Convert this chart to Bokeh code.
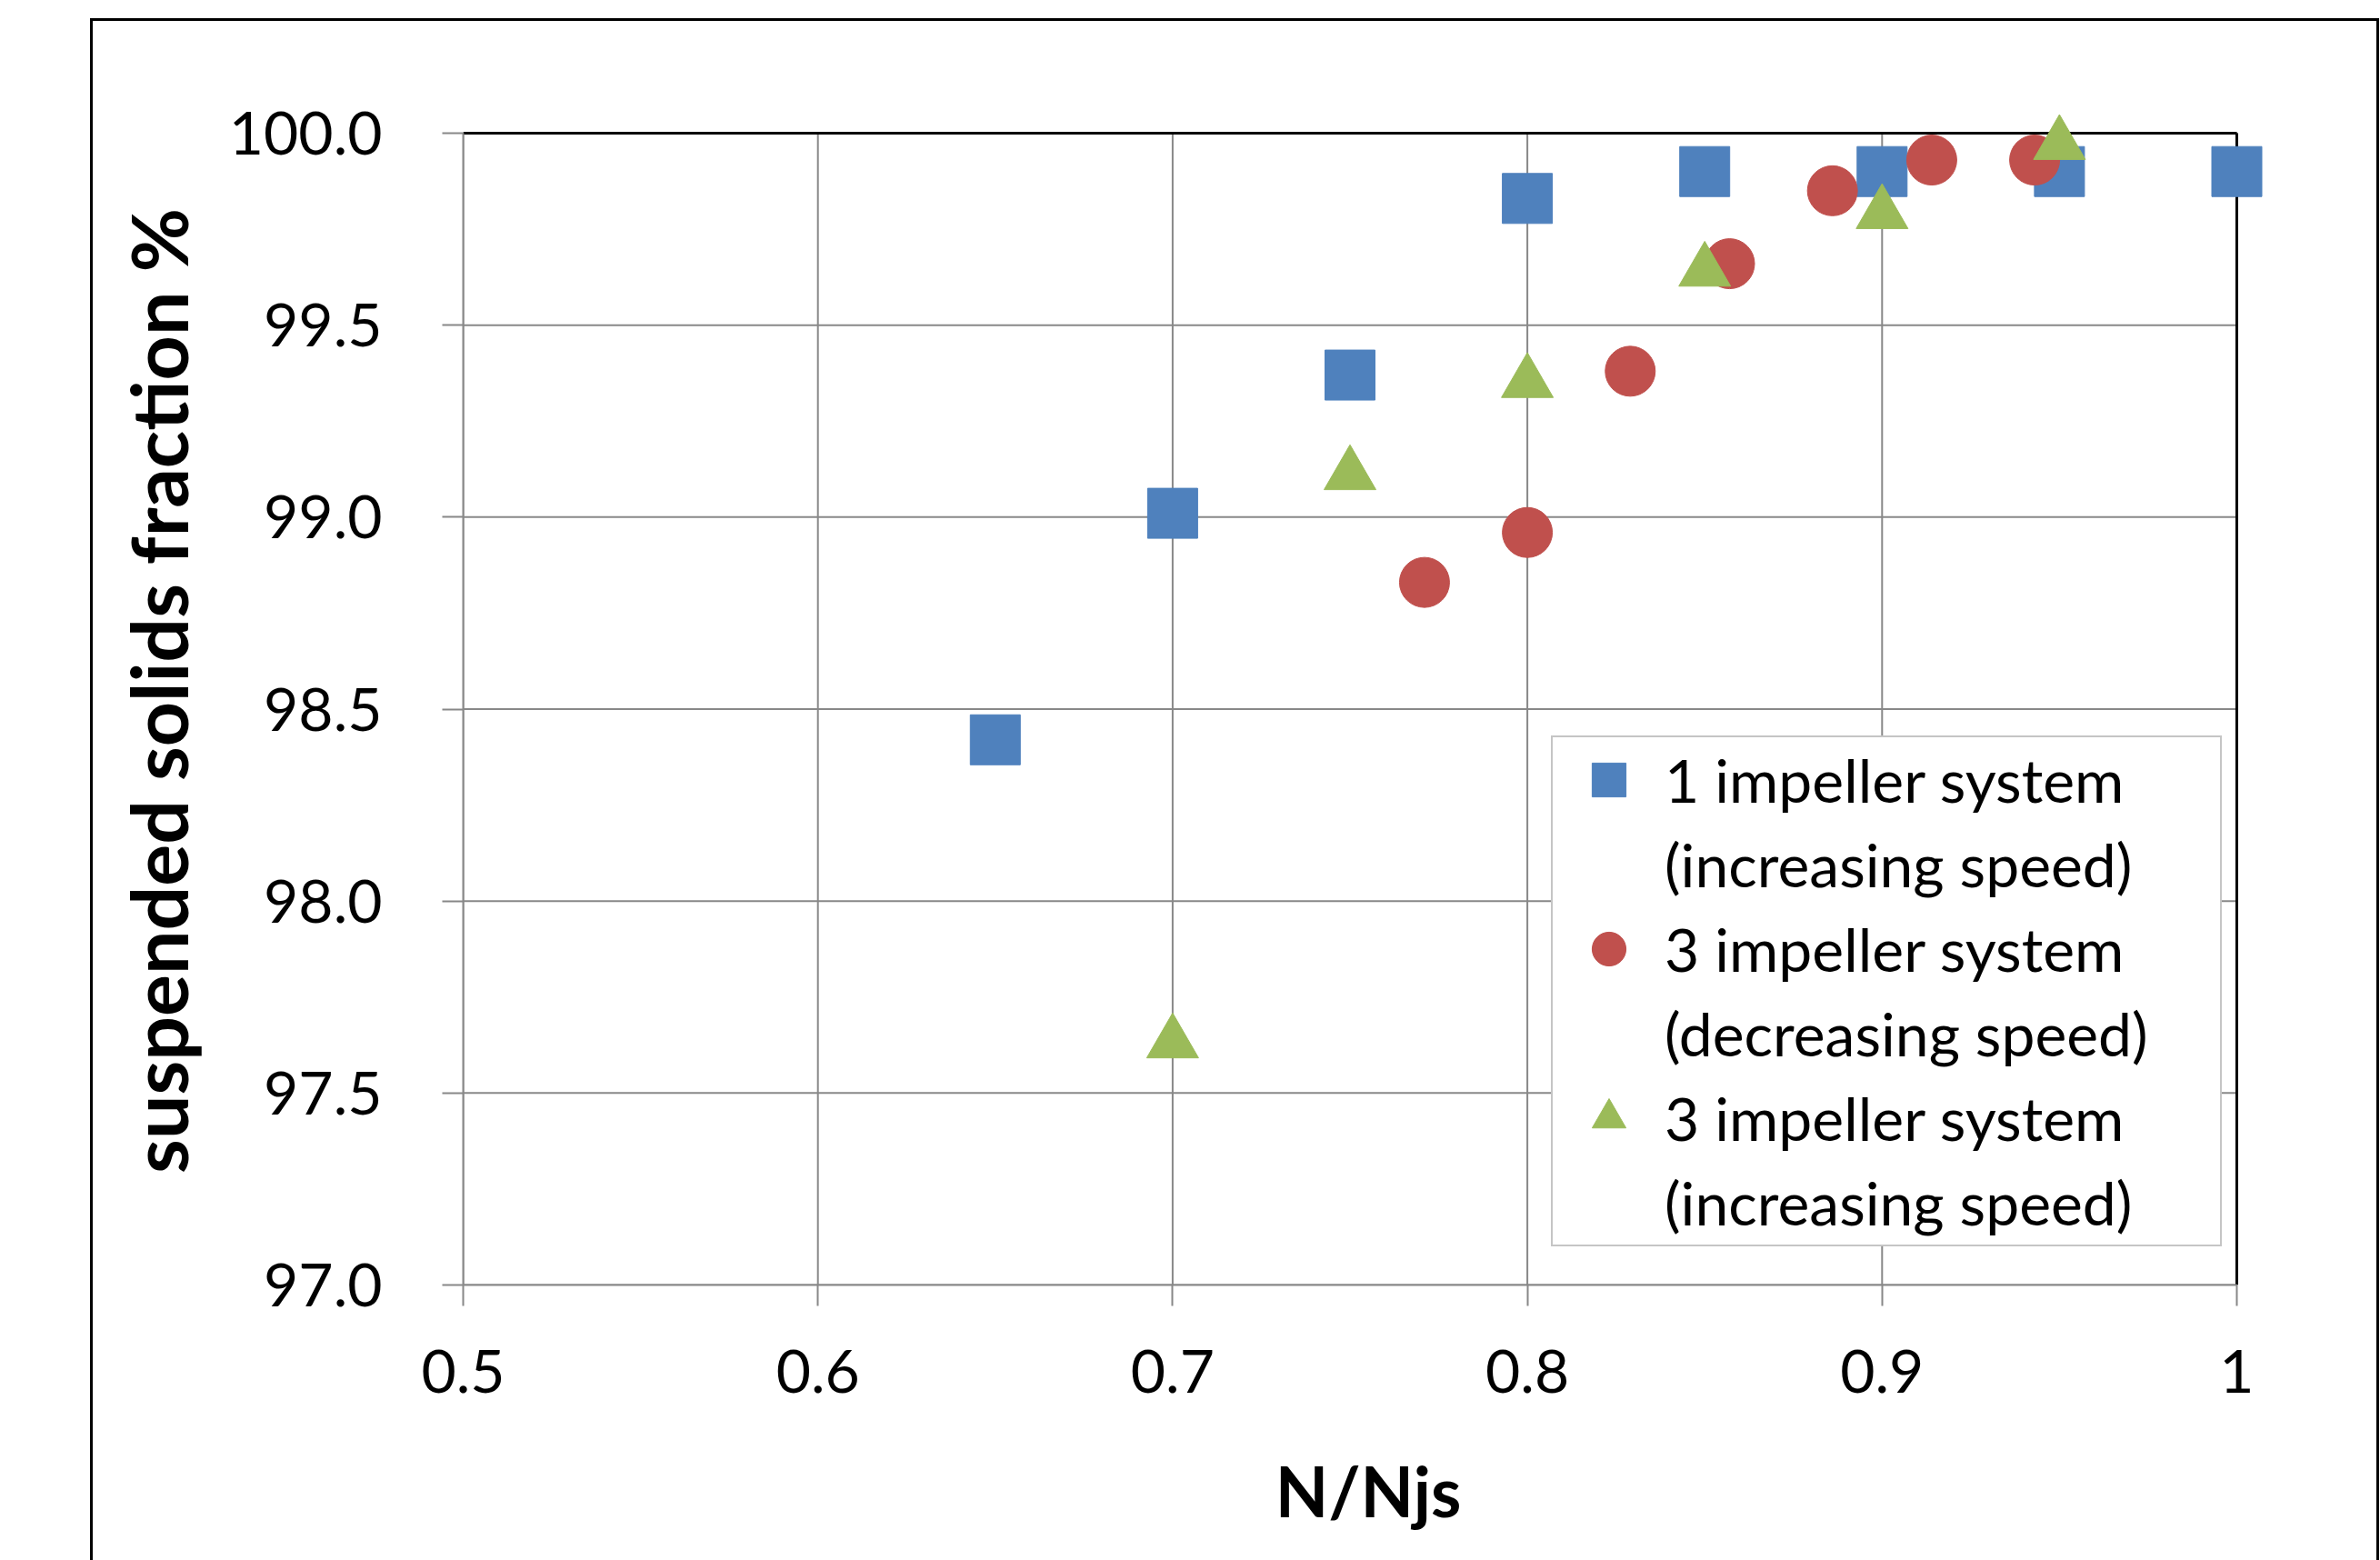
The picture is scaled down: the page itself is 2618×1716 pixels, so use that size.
import numpy as np
from bokeh.plotting import figure
from bokeh.models import (Range1d, FixedTicker, CustomJSTickFormatter, NumeralTickFormatter,
                          Legend, LegendItem, ColumnDataSource)
from bokeh.transform import dodge
from bokeh.embed import file_html
from bokeh.resources import INLINE

# ---------------- data ----------------
x_ticks = [0.5, 0.6, 0.7, 0.8, 0.9, 1.0]
y_ticks = [97.0, 97.5, 98.0, 98.5, 99.0, 99.5, 100.0]

one_imp_inc_x = [0.65, 0.70, 0.75, 0.80, 0.85, 0.90, 0.95, 1.00]
one_imp_inc_y = [98.42, 99.01, 99.37, 99.83, 99.90, 99.90, 99.90, 99.90]

three_imp_dec_x = [0.771, 0.800, 0.829, 0.857, 0.886, 0.914, 0.943]
three_imp_dec_y = [98.83, 98.96, 99.38, 99.66, 99.85, 99.93, 99.93]

three_imp_inc_x = [0.70, 0.75, 0.80, 0.85, 0.90, 0.95]
three_imp_inc_y = [97.65, 99.13, 99.37, 99.66, 99.81, 99.99]

legend_lines = [
    "1 impeller system", "(increasing speed)",
    "3 impeller system", "(decreasing speed)",
    "3 impeller system", "(increasing speed)",
]

x_title = "N/Njs"
y_title = "suspended solids fraction %"

# ---------------- style ----------------
FONT = "Lato"
BLUE, RED, GREEN = "#4F81BD", "#C0504D", "#9BBB59"
GRID = "#888888"
SQ_SIZE, CIRC_SIZE, TRI_SIZE = 55, 55, 57

# layout in page pixels
PLOT_L, PLOT_R = 509, 2460
PLOT_T, PLOT_B = 146, 1413
EXT = 40                       # extra frame room so edge markers are not clipped
FIG_L, FIG_T, FIG_R, FIG_B = 102, 23, 2614, 1716

x_lo, x_hi = x_ticks[0], x_ticks[-1]
y_lo, y_hi = y_ticks[0], y_ticks[-1]
x_end = x_hi + (x_hi - x_lo) * EXT / (PLOT_R - PLOT_L)
y_end = y_hi + (y_hi - y_lo) * EXT / (PLOT_B - PLOT_T)
y_per_px = (y_hi - y_lo) / (PLOT_B - PLOT_T)

p = figure(
    width=FIG_R - FIG_L, height=FIG_B - FIG_T,
    x_range=Range1d(x_lo, x_end), y_range=Range1d(y_lo, y_end),
    output_backend="svg", toolbar_location=None,
    min_border_left=PLOT_L - FIG_L,
    min_border_right=FIG_R - (PLOT_R + EXT),
    min_border_top=(PLOT_T - EXT) - FIG_T,
    min_border_bottom=FIG_B - PLOT_B,
    margin=(FIG_T, 0, 0, FIG_L),
    background_fill_color="white", border_fill_color="white",
    outline_line_color=None,
)
p.styles = {"outline": "3px solid black"}

p.xgrid.visible = False
p.ygrid.visible = False

# gridlines (drawn from tick lists, limited to the plot area)
p.segment(x0=x_ticks, y0=[y_lo] * len(x_ticks), x1=x_ticks, y1=[y_hi] * len(x_ticks),
          line_color=GRID, line_width=2)
p.segment(x0=[x_lo] * len(y_ticks), y0=y_ticks, x1=[x_hi] * len(y_ticks), y1=y_ticks,
          line_color=GRID, line_width=2)
# plot-area border (top and right)
p.segment(x0=[x_lo, x_hi], y0=[y_hi, y_lo], x1=[x_hi, x_hi], y1=[y_hi, y_hi],
          line_color="black", line_width=3)

# axes
p.xaxis.ticker = FixedTicker(ticks=x_ticks)
p.xaxis.bounds = (x_lo, x_hi)
p.xaxis.formatter = CustomJSTickFormatter(code="return String(Math.round(tick*10)/10);")
p.yaxis.ticker = FixedTicker(ticks=y_ticks)
p.yaxis.bounds = (y_lo, y_hi)
p.yaxis.formatter = NumeralTickFormatter(format="0.0")
for ax in (p.xaxis[0], p.yaxis[0]):
    ax.axis_line_color = GRID
    ax.axis_line_width = 2
    ax.major_tick_line_color = GRID
    ax.major_tick_line_width = 2
    ax.major_tick_out = 23
    ax.major_tick_in = 0
    ax.minor_tick_out = 0
    ax.minor_tick_in = 0
    ax.major_label_text_font = FONT
    ax.major_label_text_font_size = "66px"
    ax.major_label_text_color = "black"
    ax.axis_label_text_font = FONT
    ax.axis_label_text_font_style = "bold"
    ax.axis_label_text_color = "black"
p.xaxis.axis_label_text_font_size = "76px"
p.yaxis.axis_label_text_font_size = "86px"
p.xaxis.axis_label = x_title
p.yaxis.axis_label = y_title
p.xaxis.major_label_standoff = 48
p.yaxis.major_label_standoff = 66
p.xaxis.axis_label_standoff = 59
p.yaxis.axis_label_standoff = 24

# data
r1 = p.scatter(one_imp_inc_x, one_imp_inc_y, marker="square", size=SQ_SIZE,
               fill_color=BLUE, line_color=BLUE, line_width=1)
r2 = p.scatter(three_imp_dec_x, three_imp_dec_y, marker="circle", size=CIRC_SIZE,
               fill_color=RED, line_color=RED, line_width=1)
# a Bokeh triangle is anchored on its centroid; shift so its box is centred on the value
tri_src = ColumnDataSource(dict(x=three_imp_inc_x, y=three_imp_inc_y))
tri_shift = TRI_SIZE * np.sqrt(3) / 2 / 6 * y_per_px
r3 = p.scatter(x="x", y=dodge("y", -tri_shift, range=p.y_range), source=tri_src,
               marker="triangle", size=TRI_SIZE,
               fill_color=GREEN, line_color=GREEN, line_width=1)
blank = p.scatter(x=[], y=[], marker="square", size=1, fill_alpha=0, line_alpha=0)

ROW = 93
legend = Legend(
    items=[
        LegendItem(label=legend_lines[0], renderers=[r1]),
        LegendItem(label=legend_lines[1], renderers=[blank]),
        LegendItem(label=legend_lines[2], renderers=[r2]),
        LegendItem(label=legend_lines[3], renderers=[blank]),
        LegendItem(label=legend_lines[4], renderers=[r3]),
        LegendItem(label=legend_lines[5], renderers=[blank]),
    ],
    location=(1706 - PLOT_L, PLOT_B - 1371),
    margin=0, padding=0, spacing=0,
    glyph_width=123, glyph_height=ROW, label_height=ROW,
    label_standoff=0, label_width=611,
    border_line_color="#8c8c8c", border_line_width=2,
    background_fill_color="white", background_fill_alpha=1.0,
    label_text_font=FONT, label_text_font_size="66px", label_text_color="black",
)
p.add_layout(legend)

open("out.html", "w").write(file_html(p, INLINE))
